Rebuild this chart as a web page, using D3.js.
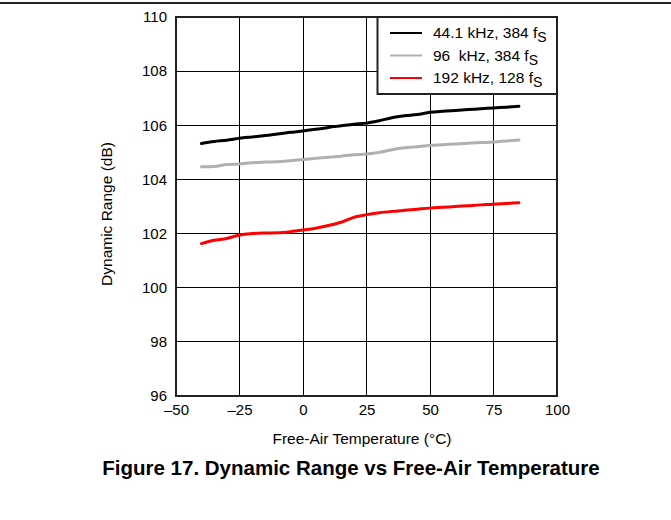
<!DOCTYPE html>
<html><head><meta charset="utf-8">
<script src="https://cdn.jsdelivr.net/npm/d3@7"></script>
<style>body{margin:0;background:#fff}svg{display:block;font-family:"Liberation Sans",Arial,sans-serif}</style>
</head><body><svg id="c" width="671" height="520"></svg>
<script>
const temps = [-40,-35,-30,-25,-20,-15,-10,-5,0,5,10,15,20,25,30,35,40,45,50,55,60,65,70,75,80,85];
const dr441 = [105.33,105.40,105.45,105.52,105.57,105.62,105.68,105.74,105.79,105.85,105.92,105.98,106.04,106.08,106.17,106.28,106.35,106.40,106.48,106.52,106.55,106.58,106.61,106.64,106.67,106.70];
const dr96 = [104.47,104.48,104.55,104.57,104.62,104.64,104.65,104.69,104.74,104.78,104.82,104.86,104.91,104.94,105.00,105.10,105.17,105.21,105.25,105.28,105.31,105.34,105.36,105.38,105.42,105.46];
const dr192 = [101.63,101.75,101.82,101.95,102.00,102.02,102.03,102.07,102.13,102.20,102.30,102.42,102.60,102.70,102.77,102.82,102.86,102.90,102.94,102.97,103.00,103.03,103.06,103.08,103.11,103.14];
const xTicks = [-50,-25,0,25,50,75,100];
const yTicks = [96,98,100,102,104,106,108,110];
const seriesNames = ["44.1 kHz, 384 f", "96  kHz, 384 f", "192 kHz, 128 f"];
const seriesColors = ["#000000", "#b0b0b0", "#ff0000"];
const series = [dr441, dr96, dr192];

const svg = d3.select("#c");
const L=176, R=557, T=17, B=396;
const x = d3.scaleLinear().domain([-50,100]).range([L,R]);
const y = d3.scaleLinear().domain([96,110]).range([B,T]);

// top rule
svg.append("line").attr("x1",0).attr("x2",671).attr("y1",3).attr("y2",3).attr("stroke","#222").attr("stroke-width",2);

// grid
svg.append("g").selectAll("line").data(xTicks).join("line")
  .attr("x1",d=>x(d)).attr("x2",d=>x(d)).attr("y1",T).attr("y2",B)
  .attr("stroke","#000").attr("stroke-width",1).attr("shape-rendering","crispEdges");
svg.append("g").selectAll("line").data(yTicks).join("line")
  .attr("x1",L).attr("x2",R).attr("y1",d=>y(d)).attr("y2",d=>y(d))
  .attr("stroke","#000").attr("stroke-width",1).attr("shape-rendering","crispEdges");

// axes labels
const xa = svg.append("g").attr("transform",`translate(0,${B})`)
  .call(d3.axisBottom(x).tickValues(xTicks).tickSize(0).tickPadding(8).tickFormat(d=>d<0?"\u2013"+Math.abs(d):d));
xa.select(".domain").remove();
xa.selectAll("text").attr("font-size",15).attr("font-family","Liberation Sans, Arial, sans-serif").attr("fill","#000");
const ya = svg.append("g").attr("transform",`translate(${L},0)`)
  .call(d3.axisLeft(y).tickValues(yTicks).tickSize(0).tickPadding(9));
ya.select(".domain").remove();
ya.selectAll("text").attr("font-size",15).attr("font-family","Liberation Sans, Arial, sans-serif").attr("fill","#000");

// lines
const line = d3.line().x((d,i)=>x(temps[i])).y(d=>y(d)).curve(d3.curveMonotoneX);
series.forEach((s,k)=>{
  svg.append("path").datum(s).attr("d",line).attr("fill","none")
    .attr("stroke",seriesColors[k]).attr("stroke-width",3).attr("stroke-linecap","round");
});

// frame
svg.append("rect").attr("x",L).attr("y",T).attr("width",R-L).attr("height",B-T)
  .attr("fill","none").attr("stroke","#222").attr("stroke-width",2);

// legend
const lg = svg.append("g");
lg.append("rect").attr("x",377.5).attr("y",T).attr("width",R-377.5).attr("height",77)
  .attr("fill","#fff").attr("stroke","#222").attr("stroke-width",2);
seriesNames.forEach((n,k)=>{
  const yy = 33 + k*22.5;
  lg.append("line").attr("x1",390).attr("x2",422).attr("y1",yy).attr("y2",yy)
    .attr("stroke",seriesColors[k]).attr("stroke-width",2);
  const t = lg.append("text").attr("x",433).attr("y",yy+5).attr("font-size",15.5).attr("fill","#000").style("white-space","pre");
  t.append("tspan").text(n);
  t.append("tspan").attr("dy",4).attr("font-size",14).text("S");
});

// axis titles
svg.append("text").attr("x",362).attr("y",444).attr("text-anchor","middle").attr("font-size",15.5).text("Free-Air Temperature (\u00B0C)");
svg.append("text").attr("transform","translate(112,214) rotate(-90)").attr("text-anchor","middle").attr("font-size",15.5).text("Dynamic Range (dB)");

// figure title
svg.append("text").attr("x",351).attr("y",475).attr("text-anchor","middle").attr("font-size",20.5).attr("font-weight","bold").text("Figure 17. Dynamic Range vs Free-Air Temperature");
</script></body></html>
